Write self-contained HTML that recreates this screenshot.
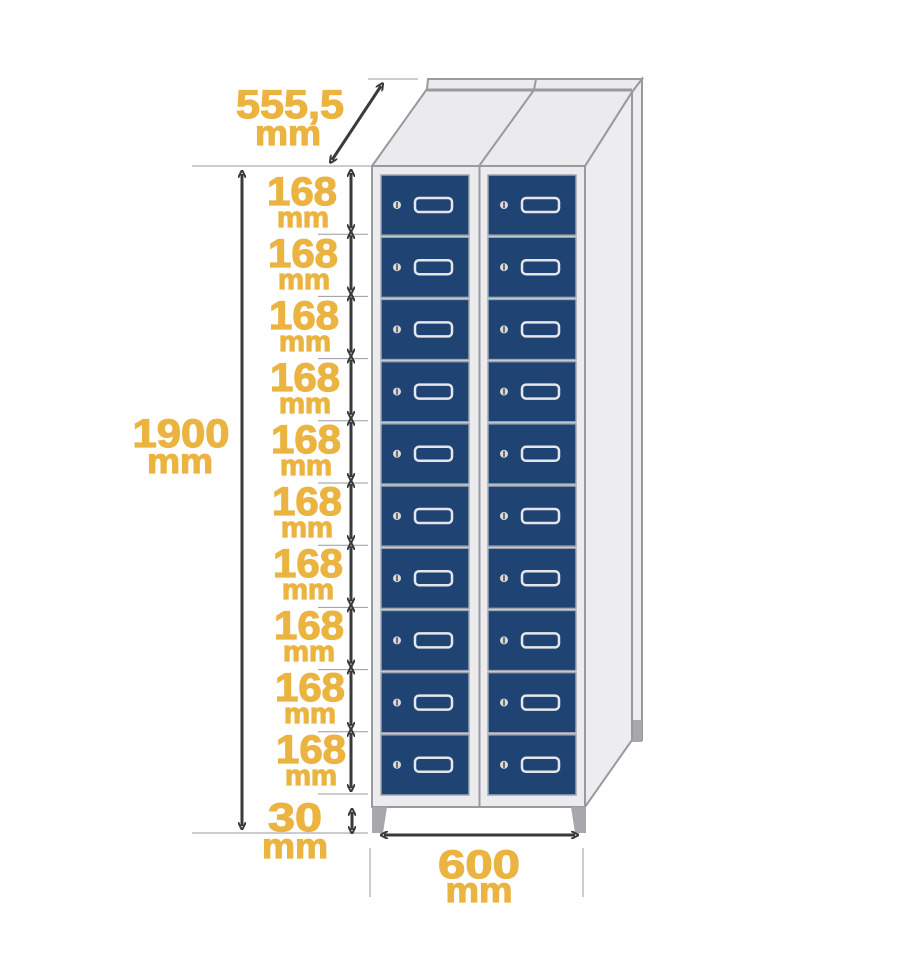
<!DOCTYPE html>
<html><head><meta charset="utf-8"><style>
html,body{margin:0;padding:0;background:#fff;width:900px;height:962px;overflow:hidden}
svg{display:block}
.t{font-family:"Liberation Sans",sans-serif;font-weight:bold;fill:#EBB440;stroke:#EBB440;stroke-width:1.2;text-anchor:middle}
.n{font-size:40px}
.m{font-size:29px}
.M{font-size:35px}
</style></head><body>
<svg id="s" width="900" height="962" viewBox="0 0 900 962" xmlns="http://www.w3.org/2000/svg">
<defs>
<marker id="a" markerWidth="8" markerHeight="8" refX="4" refY="4" orient="auto-start-reverse" markerUnits="userSpaceOnUse"><path d="M0,0 L8,4 L0,8" fill="none" stroke="#3a3a3a" stroke-width="2"/></marker>
</defs>
<polygon points="585,166 632,92 642,79 642,740 632,740 585,807" fill="#ededf0" stroke="#9a9a9e" stroke-width="2"/>
<polygon points="632,720 642,720 642,742 632,742" fill="#a8a8ac"/>
<polygon points="372,166 427,89 428,79 642,79 632,92 585,166" fill="#ebebee" stroke="#9a9a9e" stroke-width="2"/>
<line x1="427" y1="90" x2="632" y2="90" stroke="#9a9a9e" stroke-width="3"/>
<line x1="479" y1="166" x2="534" y2="90" stroke="#9a9a9e" stroke-width="2"/>
<line x1="534" y1="90" x2="536" y2="79" stroke="#9a9a9e" stroke-width="2"/>
<line x1="632" y1="92" x2="632" y2="740" stroke="#9a9a9e" stroke-width="2"/>
<rect x="372" y="166" width="213" height="641" fill="#ececef" stroke="#9a9a9e" stroke-width="2"/>
<line x1="479.5" y1="166" x2="479.5" y2="807" stroke="#9a9a9e" stroke-width="2"/>
<polygon points="372,807 387,807 383,833 372,833" fill="#a8a8ac"/>
<polygon points="571,807 586,807 586,833 575,833" fill="#a8a8ac"/>
<g id="doors"></g>
<g stroke="#9a9a9e" stroke-width="1">
<line x1="192" y1="166" x2="370" y2="166"/>
<line x1="192" y1="833" x2="368" y2="833"/>
<line x1="368" y1="79" x2="418" y2="79"/>
<line x1="370" y1="848" x2="370" y2="897"/>
<line x1="583" y1="848" x2="583" y2="897"/>
</g>
<g stroke="#3a3a3a" stroke-width="3" fill="none">
<line x1="242" y1="174" x2="242" y2="826" marker-start="url(#a)" marker-end="url(#a)"/>
<line x1="332" y1="160" x2="381" y2="86" marker-start="url(#a)" marker-end="url(#a)"/>
<line x1="384" y1="835" x2="575" y2="835" marker-start="url(#a)" marker-end="url(#a)"/>
<line x1="352" y1="812" x2="352" y2="830" marker-start="url(#a)" marker-end="url(#a)"/>
</g>
<g id="dims"></g>
<text class="t n" x="290" y="118" textLength="108" lengthAdjust="spacingAndGlyphs">555,5</text>
<text class="t M" x="288" y="145" textLength="66" lengthAdjust="spacingAndGlyphs">mm</text>
<text class="t n" x="181" y="447" textLength="97" lengthAdjust="spacingAndGlyphs">1900</text>
<text class="t M" x="180" y="473" textLength="66" lengthAdjust="spacingAndGlyphs">mm</text>
<text class="t n" x="479" y="878" textLength="82" lengthAdjust="spacingAndGlyphs">600</text>
<text class="t M" x="479" y="902" textLength="67" lengthAdjust="spacingAndGlyphs">mm</text>
<text class="t n" x="295" y="831" textLength="54" lengthAdjust="spacingAndGlyphs">30</text>
<text class="t M" x="295" y="858" textLength="66" lengthAdjust="spacingAndGlyphs">mm</text>
<g id="lbl">
<text class="t n" x="302" y="205" textLength="70" lengthAdjust="spacingAndGlyphs">168</text><text class="t m" x="303" y="227" textLength="52" lengthAdjust="spacingAndGlyphs">mm</text>
<text class="t n" x="303" y="267" textLength="70" lengthAdjust="spacingAndGlyphs">168</text><text class="t m" x="304" y="289" textLength="52" lengthAdjust="spacingAndGlyphs">mm</text>
<text class="t n" x="304" y="329" textLength="70" lengthAdjust="spacingAndGlyphs">168</text><text class="t m" x="305" y="351" textLength="52" lengthAdjust="spacingAndGlyphs">mm</text>
<text class="t n" x="305" y="391" textLength="70" lengthAdjust="spacingAndGlyphs">168</text><text class="t m" x="305" y="413" textLength="52" lengthAdjust="spacingAndGlyphs">mm</text>
<text class="t n" x="306" y="453" textLength="70" lengthAdjust="spacingAndGlyphs">168</text><text class="t m" x="306" y="475" textLength="52" lengthAdjust="spacingAndGlyphs">mm</text>
<text class="t n" x="307" y="515" textLength="70" lengthAdjust="spacingAndGlyphs">168</text><text class="t m" x="307" y="537" textLength="52" lengthAdjust="spacingAndGlyphs">mm</text>
<text class="t n" x="308" y="577" textLength="70" lengthAdjust="spacingAndGlyphs">168</text><text class="t m" x="308" y="599" textLength="52" lengthAdjust="spacingAndGlyphs">mm</text>
<text class="t n" x="309" y="639" textLength="70" lengthAdjust="spacingAndGlyphs">168</text><text class="t m" x="309" y="661" textLength="52" lengthAdjust="spacingAndGlyphs">mm</text>
<text class="t n" x="310" y="701" textLength="70" lengthAdjust="spacingAndGlyphs">168</text><text class="t m" x="310" y="723" textLength="52" lengthAdjust="spacingAndGlyphs">mm</text>
<text class="t n" x="311" y="763" textLength="70" lengthAdjust="spacingAndGlyphs">168</text><text class="t m" x="311" y="785" textLength="52" lengthAdjust="spacingAndGlyphs">mm</text>
</g>
</svg>
<script>
var ns="http://www.w3.org/2000/svg",d=document.getElementById("doors"),dm=document.getElementById("dims");
function el(p,t,a){var e=document.createElementNS(ns,t);for(var k in a)e.setAttribute(k,a[k]);p.appendChild(e);return e;}
var h=62.2;
for(var i=0;i<10;i++){var y=175+i*h;
 [381,488].forEach(function(x){
  el(d,"rect",{x:x,y:y,width:88,height:h-2,fill:"#1f4473",stroke:"#9fa6b2","stroke-width":1.5});
  el(d,"circle",{cx:x+16,cy:y+30,r:4,fill:"#d9d9d9"});
  el(d,"line",{x1:x+16,y1:y+27,x2:x+16,y2:y+33,stroke:"#333","stroke-width":1.3});
  el(d,"rect",{x:x+34,y:y+23,width:37,height:14,rx:4,fill:"none",stroke:"#e6e6ea","stroke-width":2.5});
 });
 el(dm,"line",{x1:351,y1:y-2,x2:351,y2:y+h-9,stroke:"#3a3a3a","stroke-width":3,"marker-start":"url(#a)","marker-end":"url(#a)"});
 el(dm,"line",{x1:318,y1:y+h-3,x2:368,y2:y+h-3,stroke:"#9a9a9e","stroke-width":1});
}
</script>
</body></html>
